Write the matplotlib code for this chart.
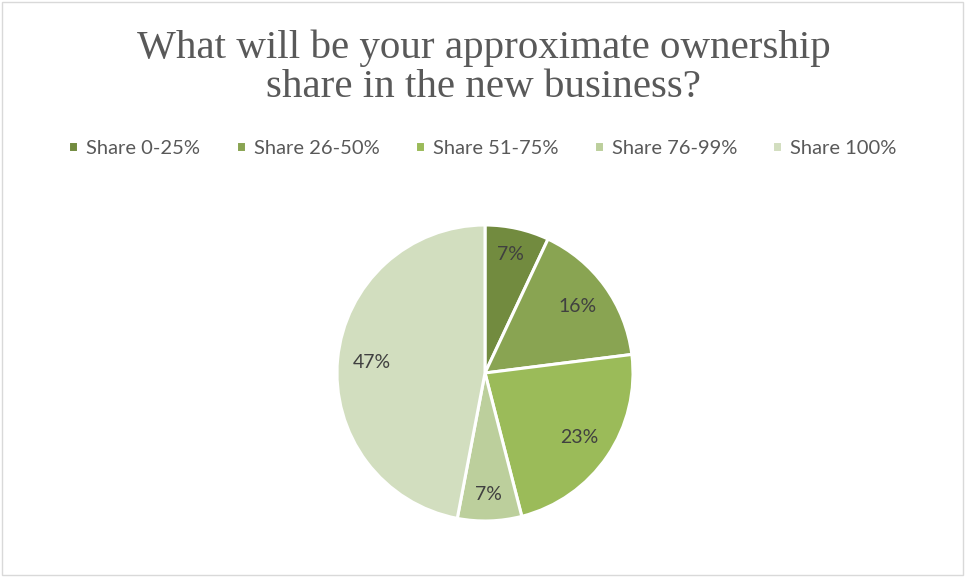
import numpy as np
import matplotlib
matplotlib.use('Agg')
import matplotlib.pyplot as plt
from matplotlib.patches import Rectangle

# ownership share survey
categories = ['Share 0-25%', 'Share 26-50%', 'Share 51-75%', 'Share 76-99%', 'Share 100%']
shares = [7, 16, 23, 7, 47]
colors = ['#728B3F', '#89A452', '#9BBB59', '#BCCF9C', '#D2DEBF']

fig = plt.figure(figsize=(9.65, 5.77), dpi=100)
fig.patch.set_facecolor('white')

# thin chart border
fig.patches.append(Rectangle((0.002, 0.003), 0.996, 0.994, transform=fig.transFigure,
                             fill=False, edgecolor='#D9D9D9', linewidth=1))

fig.text(0.501, 0.882, 'What will be your approximate ownership\nshare in the new business?',
         ha='center', va='center', fontsize=29.5, family='Liberation Serif',
         color='#595959', linespacing=1.08)

# pie axes: 296 px square centred on (485, 373)
W, H = 965, 577
cx, cy, r = 485, 373, 148
ax = fig.add_axes([(cx - r) / W, (H - cy - r) / H, 2 * r / W, 2 * r / H])
wedges, texts, autotexts = ax.pie(shares, colors=colors, startangle=90, counterclock=False,
                                  autopct='%d%%', pctdistance=0.77,
                                  wedgeprops=dict(edgecolor='white', linewidth=2.2),
                                  textprops=dict(fontsize=14, color='#404040', family='Lato'))
ax.set_xlim(-1, 1)
ax.set_ylim(-1, 1)
ax.set_aspect('equal')

# push the narrow slices' labels further out
for w, t, v in zip(wedges, autotexts, shares):
    if v < 10:
        ang = np.deg2rad((w.theta1 + w.theta2) / 2)
        t.set_position((0.8 * np.cos(ang), 0.82 * np.sin(ang)))

leg = fig.legend(wedges, categories, loc='center', bbox_to_anchor=(0.5, 0.743), ncol=5,
                 frameon=False, handlelength=0.5, handleheight=0.5, handletextpad=0.4,
                 columnspacing=1.75, prop=dict(family='Lato', size=14.5))
for t in leg.get_texts():
    t.set_color('#595959')

fig.savefig('out.png', dpi=100)
